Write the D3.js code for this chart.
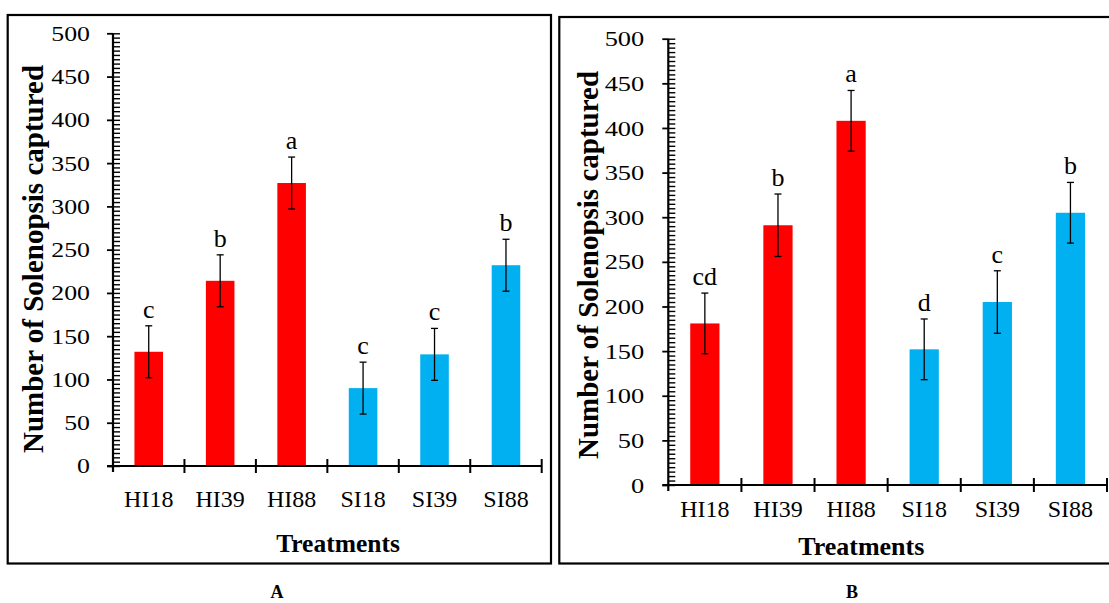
<!DOCTYPE html>
<html>
<head>
<meta charset="utf-8">
<script src="https://cdn.jsdelivr.net/npm/d3@7"></script>
<style>
  html, body { margin: 0; padding: 0; background: #fff; }
  svg { display: block; }
  text { font-family: "Liberation Serif", "Times New Roman", serif; fill: #000; }
</style>
</head>
<body>
<div id="chart"></div>
<script>
// Solenopsis captures per treatment (mean ± SE) for the two trials
const treatments = ["HI18", "HI39", "HI88", "SI18", "SI39", "SI88"];
const groups = ["HI", "HI", "HI", "SI", "SI", "SI"];

const countsA = [132, 214, 327, 90, 129, 232];
const errA = [30, 30, 30, 30, 30, 30];
const lettersA = ["c", "b", "a", "c", "c", "b"];

const countsB = [181, 291, 408, 152, 205, 305];
const errB = [34, 35, 34, 34, 35, 34];
const lettersB = ["cd", "b", "a", "d", "c", "b"];

const yMajorTicks = [0, 50, 100, 150, 200, 250, 300, 350, 400, 450, 500];
const yMinorStep = 5;
const yMax = 500;

const yTitle = "Number of Solenopsis captured";
const xTitle = "Treatments";

const W = 1109, H = 603;
const svg = d3.select("#chart").append("svg")
  .attr("width", W).attr("height", H);
svg.append("rect").attr("width", W).attr("height", H).attr("fill", "#fff");

const color = d3.scaleOrdinal().domain(["HI", "SI"]).range(["#FF0000", "#00B0F0"]);

function drawPanel(o, counts, errs, letters, tag) {
  const g = svg.append("g");

  // panel frame
  g.append("rect")
    .attr("x", o.frame[0]).attr("y", o.frame[1])
    .attr("width", o.frame[2] - o.frame[0]).attr("height", o.frame[3] - o.frame[1])
    .attr("fill", "none").attr("stroke", "#000").attr("stroke-width", 2.2);

  const x = d3.scaleBand().domain(treatments).range([o.x0, o.x1]).padding(0);
  const y = d3.scaleLinear().domain([0, yMax]).range([o.yBottom, o.yTop]);

  // bars
  const bw = x.bandwidth() * 0.4;
  g.selectAll("rect.bar").data(treatments).join("rect")
    .attr("class", "bar")
    .attr("x", (d) => x(d) + (x.bandwidth() - bw) / 2)
    .attr("y", (d, i) => y(counts[i]))
    .attr("width", bw)
    .attr("height", (d, i) => y(0) - y(counts[i]))
    .attr("fill", (d, i) => color(groups[i]));

  // error bars
  const cap = 3.5;
  const eb = g.selectAll("g.err").data(treatments).join("g").attr("class", "err")
    .attr("stroke", "#000").attr("stroke-width", 1.3);
  eb.append("line")
    .attr("x1", (d) => x(d) + x.bandwidth() / 2).attr("x2", (d) => x(d) + x.bandwidth() / 2)
    .attr("y1", (d, i) => y(counts[i] + errs[i])).attr("y2", (d, i) => y(counts[i] - errs[i]));
  eb.append("line")
    .attr("x1", (d) => x(d) + x.bandwidth() / 2 - cap).attr("x2", (d) => x(d) + x.bandwidth() / 2 + cap)
    .attr("y1", (d, i) => y(counts[i] + errs[i])).attr("y2", (d, i) => y(counts[i] + errs[i]));
  eb.append("line")
    .attr("x1", (d) => x(d) + x.bandwidth() / 2 - cap).attr("x2", (d) => x(d) + x.bandwidth() / 2 + cap)
    .attr("y1", (d, i) => y(counts[i] - errs[i])).attr("y2", (d, i) => y(counts[i] - errs[i]));

  // significance letters
  g.selectAll("text.letter").data(letters).join("text")
    .attr("class", "letter")
    .attr("x", (d, i) => x(treatments[i]) + x.bandwidth() / 2)
    .attr("y", (d, i) => y(counts[i] + errs[i]) - 8)
    .attr("text-anchor", "middle")
    .attr("font-size", o.letterSize)
    .text((d) => d);

  // y axis: minor ticks inside, major ticks crossing
  const minor = g.append("g").attr("transform", `translate(${o.x0},0)`)
    .call(d3.axisRight(y).tickValues(d3.range(0, yMax + 1, yMinorStep)).tickSize(7).tickFormat(""));
  minor.select(".domain").remove();
  minor.selectAll("line").attr("stroke", "#000").attr("stroke-width", 1.4);

  const major = g.append("g").attr("transform", `translate(${o.x0},0)`)
    .call(d3.axisLeft(y).tickValues(yMajorTicks).tickSize(6).tickFormat(d3.format("d")));
  major.select(".domain").remove();
  major.selectAll("line").attr("stroke", "#000").attr("stroke-width", 1.8);
  major.selectAll("text")
    .attr("x", 0).attr("dy", "0.34em")
    .attr("font-size", o.yTickSize)
    .attr("font-family", "Liberation Serif, serif")
    .attr("fill", "#000")
    .attr("transform", `translate(${-o.yLabelGap},0) scale(${o.yTickStretch},1)`);

  g.append("line")
    .attr("x1", o.x0).attr("x2", o.x0)
    .attr("y1", y(yMax)).attr("y2", y(0) + 6)
    .attr("stroke", "#000").attr("stroke-width", 2.2);

  // x axis: category labels plus boundary ticks
  const xa = g.append("g").attr("transform", `translate(0,${o.yBottom})`)
    .call(d3.axisBottom(x).tickSize(0).tickPadding(0));
  xa.select(".domain").remove();
  xa.selectAll("text")
    .attr("y", o.xLabelDrop).attr("dy", 0)
    .attr("font-size", o.xTickSize)
    .attr("font-family", "Liberation Serif, serif")
    .attr("fill", "#000");

  g.append("line")
    .attr("x1", o.x0 - 6).attr("x2", o.x1)
    .attr("y1", o.yBottom).attr("y2", o.yBottom)
    .attr("stroke", "#000").attr("stroke-width", 2.2);

  const bounds = treatments.map((d) => x(d)).concat([x.range()[1]]).slice(1);
  g.selectAll("line.xb").data(bounds).join("line")
    .attr("class", "xb")
    .attr("x1", (d) => d).attr("x2", (d) => d)
    .attr("y1", o.yBottom - 7).attr("y2", o.yBottom + 7)
    .attr("stroke", "#000").attr("stroke-width", 2);

  // axis titles
  g.append("text")
    .attr("transform", `translate(${o.yTitleX},${o.yTitleY}) rotate(-90)`)
    .attr("text-anchor", "middle")
    .attr("font-weight", "bold")
    .attr("font-size", o.yTitleSize)
    .text(yTitle);

  g.append("text")
    .attr("x", o.xTitleX).attr("y", o.xTitleY)
    .attr("text-anchor", "middle")
    .attr("font-weight", "bold")
    .attr("font-size", o.xTitleSize)
    .text(xTitle);

  // panel tag
  g.append("text")
    .attr("x", o.tagX).attr("y", o.tagY)
    .attr("text-anchor", "middle")
    .attr("font-weight", "bold")
    .attr("font-size", 18)
    .text(tag);
}

drawPanel({
  frame: [7.7, 15, 551, 563.5],
  x0: 113, x1: 541.7, yBottom: 466, yTop: 33.3,
  yTickSize: 20.5, yTickStretch: 1.26, yLabelGap: 23,
  xTickSize: 24, xLabelDrop: 40.5,
  letterSize: 26,
  yTitleX: 42.7, yTitleY: 259, yTitleSize: 29,
  xTitleX: 338, xTitleY: 551.7, xTitleSize: 25.5,
  tagX: 277, tagY: 598
}, countsA, errA, lettersA, "A");

drawPanel({
  frame: [559.3, 17, 1125, 563.5],
  x0: 668.3, x1: 1107, yBottom: 485, yTop: 38.7,
  yTickSize: 21, yTickStretch: 1.26, yLabelGap: 24,
  xTickSize: 24, xLabelDrop: 31.7,
  letterSize: 26,
  yTitleX: 598, yTitleY: 265, yTitleSize: 29,
  xTitleX: 861.3, xTitleY: 555, xTitleSize: 26,
  tagX: 852, tagY: 598
}, countsB, errB, lettersB, "B");
</script>
</body>
</html>
